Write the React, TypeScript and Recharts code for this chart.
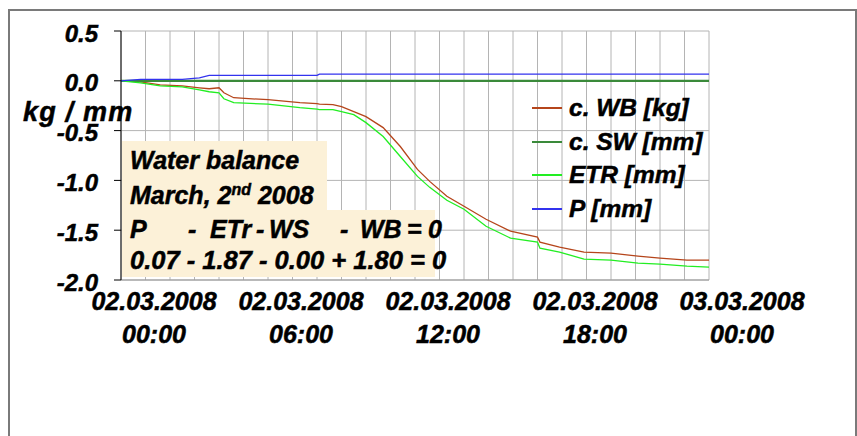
import React from "react";
import { LineChart, Line, XAxis, YAxis, CartesianGrid } from "recharts";

// hours since 02.03.2008 00:00
const hours = [0, 0.8, 1.6, 2.5, 3.2, 3.6, 4.0, 4.2, 4.6, 6.0, 7.3, 8.0, 8.1, 8.65, 9.0, 9.5, 10.0, 10.7, 11.4, 12.1, 12.6, 13.3, 14.0, 14.9, 15.9, 17.0, 17.1, 17.9, 18.9, 20.0, 21.1, 22.0, 23.1, 24];
const cWB = [0, -0.01, -0.04, -0.05, -0.07, -0.08, -0.07, -0.12, -0.17, -0.19, -0.22, -0.23, -0.235, -0.24, -0.26, -0.31, -0.36, -0.47, -0.66, -0.89, -1.01, -1.16, -1.26, -1.39, -1.51, -1.57, -1.62, -1.67, -1.72, -1.73, -1.76, -1.78, -1.8, -1.8];
const cSW = [0, 0, 0, 0, 0, 0, 0, 0, 0, 0, 0, 0, 0, 0, 0, 0, 0, 0, 0, 0, 0, 0, 0, 0, 0, 0, 0, 0, 0, 0, 0, 0, 0, 0];
const etr = [0, -0.02, -0.05, -0.06, -0.09, -0.11, -0.12, -0.18, -0.22, -0.235, -0.27, -0.285, -0.29, -0.29, -0.31, -0.34, -0.42, -0.56, -0.76, -0.96, -1.07, -1.2, -1.29, -1.46, -1.58, -1.62, -1.68, -1.72, -1.79, -1.8, -1.83, -1.84, -1.86, -1.87];
const precip = [0, 0.014, 0.014, 0.014, 0.03, 0.054, 0.054, 0.054, 0.054, 0.054, 0.054, 0.054, 0.067, 0.067, 0.067, 0.067, 0.067, 0.067, 0.067, 0.067, 0.067, 0.067, 0.067, 0.067, 0.067, 0.067, 0.067, 0.067, 0.067, 0.067, 0.067, 0.067, 0.067, 0.067];

const hourTicks = [0, 1, 2, 3, 4, 5, 6, 7, 8, 9, 10, 11, 12, 13, 14, 15, 16, 17, 18, 19, 20, 21, 22, 23, 24];
const dateLabels: Record<number, [string, string]> = {
  0: ["02.03.2008", "00:00"],
  6: ["02.03.2008", "06:00"],
  12: ["02.03.2008", "12:00"],
  18: ["02.03.2008", "18:00"],
  24: ["03.03.2008", "00:00"],
};
const yTicks = [-2, -1.5, -1, -0.5, 0, 0.5];

const series = [
  { key: "wb", name: "c. WB [kg]", color: "#b5451b", width: 1.3 },
  { key: "sw", name: "c. SW [mm]", color: "#3a8a3a", width: 2.2 },
  { key: "etr", name: "ETR [mm]", color: "#22ee22", width: 1.3 },
  { key: "p", name: "P [mm]", color: "#3333ee", width: 1.3 },
];

const balanceTokens: [string, number][] = [["P", 130], ["-", 188], ["ETr", 210], ["-", 256], ["WS", 269], ["-", 340], ["WB", 360], ["=", 407], ["0", 428]];

const data = hours.map((h, i) => ({ h, wb: cWB[i], sw: cSW[i], etr: etr[i], p: precip[i] }));

const font = "'Liberation Sans', Arial, sans-serif";
const txt: React.CSSProperties = {
  fontFamily: font,
  fontWeight: "bold",
  fontStyle: "italic",
  color: "#000",
  position: "absolute",
  whiteSpace: "nowrap",
  WebkitTextStroke: "0.5px #000",
};

function XTick({ x, y, payload }: any) {
  const lab = dateLabels[payload.value];
  if (!lab) return null;
  const p = { textAnchor: "middle" as const, fontSize: 25, fontFamily: font, fontWeight: "bold", fontStyle: "italic", fill: "#000", stroke: "#000", strokeWidth: 0.5 };
  return (
    <g transform={`translate(${x + 33},${y})`}>
      <text {...p} y={22}>{lab[0]}</text>
      <text {...p} y={55}>{lab[1]}</text>
    </g>
  );
}

export default function App() {
  return (
    <div style={{ position: "absolute", left: 0, top: 0, width: 857, height: 436, overflow: "hidden", background: "#fff" }}>
      <div style={{ position: "absolute", left: 8, top: 9, width: 845, height: 440, border: "2px solid #7a7a7a" }} />
      <div style={{ position: "absolute", left: 0, top: 0 }}>
        <LineChart width={857} height={436} data={data} margin={{ left: 61, right: 148, top: 31, bottom: 96 }}>
          <CartesianGrid stroke="#b4b4b4" strokeWidth={1} />
          <XAxis
            dataKey="h"
            type="number"
            domain={[0, 24]}
            ticks={hourTicks}
            interval={0}
            height={60}
            axisLine={{ stroke: "#999" }}
            tickLine={false}
            tick={<XTick />}
          />
          <YAxis
            type="number"
            domain={[-2, 0.5]}
            ticks={yTicks}
            interval={0}
            width={60}
            axisLine={{ stroke: "#000" }}
            tickLine={{ stroke: "#000" }}
            tickSize={7}
            tickFormatter={(v: number) => v.toFixed(1)}
            tick={{ fontSize: 24, fontFamily: font, fontWeight: "bold", fontStyle: "italic", fill: "#000", stroke: "#000", strokeWidth: 0.5, dx: -14, dy: 2 }}
          />
          {series.map((s) => (
            <Line key={s.key} type="linear" dataKey={s.key} name={s.name} stroke={s.color} strokeWidth={s.width} dot={false} isAnimationActive={false} />
          ))}
        </LineChart>
      </div>
      {/* legend */}
      {series.map((s, i) => (
        <React.Fragment key={s.key}>
          <div style={{ position: "absolute", left: 532, top: 107 + i * 33.5, width: 30, height: 2, background: s.color }} />
          <span style={{ ...txt, left: 569, top: 94 + i * 33.5, fontSize: 24.5, lineHeight: "28px" }}>{s.name}</span>
        </React.Fragment>
      ))}
      {/* annotation box */}
      <div style={{ position: "absolute", left: 122, top: 141, width: 205, height: 136, background: "#fcf1d8" }} />
      <div style={{ position: "absolute", left: 122, top: 210, width: 313, height: 67, background: "#fcf1d8" }} />
      <div style={{ ...txt, left: 130, top: 146, fontSize: 25, lineHeight: "28px" }}>Water balance</div>
      <div style={{ ...txt, left: 130, top: 181, fontSize: 25, lineHeight: "28px" }}>
        March, 2<sup style={{ fontSize: 16, verticalAlign: "9px", lineHeight: 0 }}>nd</sup> 2008
      </div>
      {balanceTokens.map(([t, x], i) => (
        <div key={i} style={{ ...txt, left: x, top: 215, fontSize: 25, lineHeight: "28px" }}>{t}</div>
      ))}
      <div style={{ ...txt, left: 130, top: 246, fontSize: 25.5, lineHeight: "28px" }}>0.07 - 1.87 - 0.00 + 1.80 = 0</div>
      <div style={{ ...txt, left: 23, top: 97, fontSize: 27, lineHeight: "30px", letterSpacing: 1.2 }}>kg / mm</div>
    </div>
  );
}
